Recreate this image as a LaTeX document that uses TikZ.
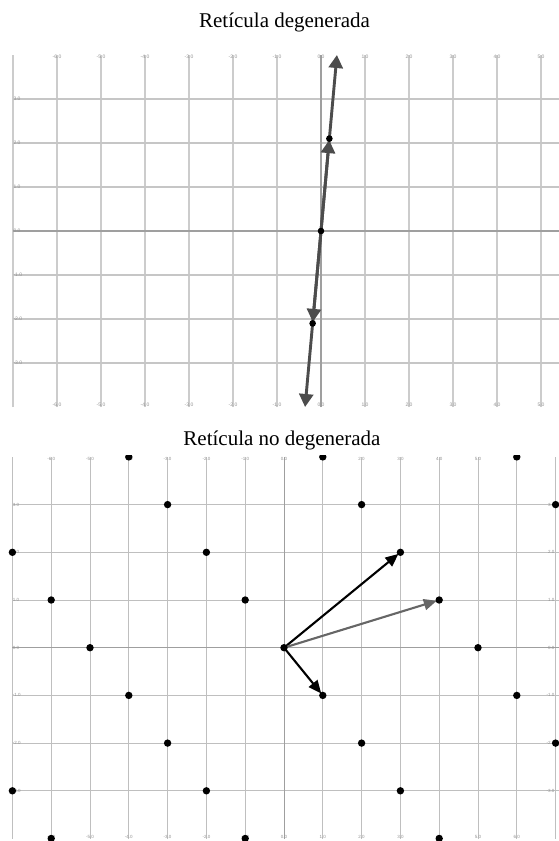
\documentclass[tikz,border=0pt]{standalone}
\usepackage{fontspec}
\setmainfont{Liberation Serif}
\newfontfamily\ticksf{Liberation Sans}
\usetikzlibrary{arrows.meta}
\begin{document}
\begin{tikzpicture}[x=1pt,y=-1pt,
  gridv/.style={draw=gray!40, line width=1.1pt},
  gridh/.style={draw=gray!45, line width=1.1pt},
  gridb/.style={draw=gray!50, line width=0.9pt},
  axisl/.style={draw=gray!75, line width=1.2pt},
  tick/.style={font=\ticksf\fontsize{5}{5}\selectfont, text=gray!85, inner sep=0pt},
  btick/.style={tick, font=\ticksf\fontsize{4.5}{4.5}\selectfont},
  title/.style={font=\fontsize{21}{21}\selectfont, anchor=base, inner sep=0pt},
  ldot/.style={circle, fill=black, draw=none, inner sep=0pt, minimum size=7.4pt},
  sdot/.style={circle, fill=black, draw=none, inner sep=0pt, minimum size=6.6pt},
  degvec/.style={draw=black!70, line width=2.9pt, -{Triangle[length=13pt,width=14pt]}},
  blkvec/.style={draw=black, line width=2.1pt, shorten >=2.5pt, -{Triangle[length=13pt,width=11pt]}},
  gryvec/.style={draw=black!60, line width=2.1pt, shorten >=2.5pt, -{Triangle[length=13pt,width=11pt]}}]
\useasboundingbox (0,0) rectangle (558,841);
\fill[white] (0,0) rectangle (558,841);

\node[title] (t1) at (284.5,27.7) {Retícula degenerada};
\node[title] (t2) at (282,445.7) {Retícula no degenerada};

% ---------- degenerate lattice ----------
\begin{scope}[shift={(321,231)}, x=44pt, y=44pt]
  \foreach \i in {-7,...,5} \draw[gridv] (\i,-4) -- (\i,4);
  \foreach \j in {-3,-2,-1,1,2,3} \draw[gridh] (-7,\j) -- (5.4,\j);
  \draw[axisl] (-7,0) -- (5.4,0);
  \draw[axisl] (0,-4) -- (0,4);
  \foreach \i in {-6,...,5} {
    \node[tick] (ta\i) at (\i,3.96) {\i.0};
    \node[tick] (ba\i) at (\i,-3.95) {\i.0};
  }
  \foreach \j in {-3,...,3}
    \node[tick, anchor=west] (la\j) at ([xshift=0.3pt]-7,\j) {\j.0};
  \coordinate (o1) at (0,0);
  \coordinate (a1) at (0.19,2.1);
  \coordinate (b1) at (-0.19,-2.1);
  \coordinate (top1) at (0.362,4);
  \coordinate (bot1) at (-0.362,-4);
  \draw[degvec] (o1) -- (top1);
  \draw[degvec] (o1) -- (bot1);
  \draw[degvec, shorten >=1.5pt] (o1) -- (a1);
  \draw[degvec, shorten >=1.5pt] (o1) -- (b1);
  \node[sdot] (do1) at (o1) {};
  \node[sdot] (da1) at (a1) {};
  \node[sdot] (db1) at (b1) {};
\end{scope}

% ---------- non-degenerate lattice ----------
\begin{scope}[shift={(284,647.7)}, x=38.8pt, y=47.7pt]
  \foreach \i in {-7,...,7} \draw[gridb] (\i,-4) -- (\i,4);
  \foreach \j in {-3,-2,-1,1,2,3} \draw[gridb] (-7,\j) -- (7.1,\j);
  \draw[axisl, line width=1pt] (-7,0) -- (7.1,0);
  \draw[axisl, line width=1pt] (0,-4) -- (0,4);
  \foreach \i in {-6,...,6} {
    \node[btick] (tb\i) at (\i,3.96) {\i.0};
    \node[btick] (bb\i) at (\i,-3.97) {\i.0};
  }
  \foreach \j in {-3,...,3} {
    \node[btick, anchor=west] (lb\j) at ([xshift=0.3pt]-7,\j) {\j.0};
    \node[btick, anchor=east] (rb\j) at ([xshift=-1pt]7,\j) {\j.0};
  }
  \coordinate (o2) at (0,0);
  \coordinate (u2) at (3,2);
  \coordinate (v2) at (4,1);
  \coordinate (w2) at (1,-1);
  \draw[blkvec] (o2) -- (u2);
  \draw[gryvec] (o2) -- (v2);
  \draw[blkvec] (o2) -- (w2);
  \begin{scope}
    \clip (-7.5,-4.3) rectangle (7.5,4.03);
    \foreach \x in {-7,...,7} {
      \foreach \y in {-4,...,4} {
        \pgfmathtruncatemacro\m{mod(\x+\y+100,5)}
        \ifnum\m=0 \node[ldot] (p\x y\y) at (\x,\y) {};\fi
      }
    }
  \end{scope}
\end{scope}
\end{tikzpicture}
\end{document}
